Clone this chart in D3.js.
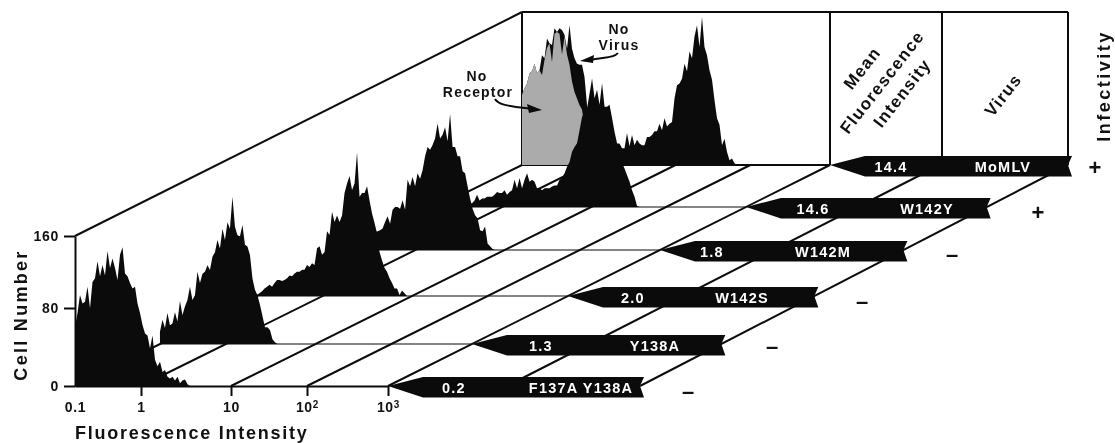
<!DOCTYPE html>
<html>
<head>
<meta charset="utf-8">
<script src="https://cdn.jsdelivr.net/npm/d3@7"></script>
<style>
body { margin: 0; background: #fff; }
svg { display: block; filter: blur(0.4px); }
text { font-family: "Liberation Sans", Arial, sans-serif; font-weight: bold; fill: #111; }
</style>
</head>
<body>
<div id="chart"></div>
<script>
// front row first, back row last
const viruses = ["F137A Y138A", "Y138A", "W142S", "W142M", "W142Y", "MoMLV"]
const meanFluorescence = ["0.2", "1.3", "2.0", "1.8", "14.6", "14.4"]
const infectivity = ["\u2013", "\u2013", "\u2013", "\u2013", "+", "+"]

const xTicks = [0.1, 1, 10, 100, 1000]
const yTicks = [0, 80, 160]

// cell counts per channel
const countsF137A = [63,78,97,88,90,106,83,111,115,133,117,129,118,144,126,136,126,113,140,148,120,117,110,104,106,88,78,65,56,54,40,54,28,21,26,15,17,10,8,10,6,10,3,6,7,2,0]
const countsY138A = [13,26,17,33,20,22,34,24,46,31,40,47,61,47,52,77,65,75,77,84,79,93,98,111,102,123,111,130,123,157,125,116,115,127,106,104,95,70,58,52,42,30,18,18,15,5,2,0]
const countsW142S = [1,3,5,8,10,12,10,14,17,17,16,17,19,22,21,24,26,26,28,28,33,31,35,33,51,53,44,47,69,65,90,79,86,79,86,110,120,128,113,120,153,106,110,110,117,102,88,78,67,47,38,30,26,19,14,8,8,1,6,3,0]
const countsW142M = [14,14,15,15,16,16,17,17,18,18,19,20,21,23,30,36,28,43,46,46,44,53,43,75,68,78,68,82,76,85,100,110,107,112,119,135,119,123,131,116,145,110,110,100,100,84,82,68,55,44,37,34,21,20,25,7,4,1,0]
const countsW142Y = [3,3,3,4,4,4,4,4,4,4,4,4,4,4,4,7,13,7,9,9,11,11,11,13,16,15,15,18,13,16,18,29,20,31,20,29,36,27,29,27,20,20,18,20,20,20,22,23,23,29,31,36,43,48,59,64,68,82,96,103,105,121,137,116,125,109,132,107,107,109,95,80,68,55,47,41,34,27,18,11,1,0]
const countsMoMLV = [75,82,87,98,100,108,98,101,117,114,135,130,128,146,142,146,144,139,124,149,124,114,108,107,107,94,64,53,43,36,32,28,27,25,23,23,23,23,23,23,18,18,34,20,32,21,27,23,21,21,30,30,32,36,36,44,37,50,41,44,46,71,85,87,92,108,100,121,114,137,149,126,158,126,117,101,91,69,50,43,21,28,14,5,7,2,0]
const countsNoReceptor = [75,82,87,98,100,108,98,101,96,112,125,130,110,140,142,140,118,137,118,107,89,78,71,64,59,43,18,7,0]

const rowCounts = [countsF137A, countsY138A, countsW142S, countsW142M, countsW142Y, countsMoMLV]

const width = 1115
const height = 443
const origin = { x: 75, y: 386 }
const wall = { x: 522, y: 165, top: 12 }
const floorDepth = origin.y - wall.y

const svg = d3.select("#chart").append("svg").attr("width", width).attr("height", height)

// rows are not quite evenly spaced on the floor
const depth = d3.scaleLinear().domain([0, 1, 2, 3, 4, 5]).range([0, 42, 90, 136, 179, 221])
// the back edge of the floor is a bit narrower than the front edge
const backX = d3.scaleLinear().domain([0, 313, 432, 565]).range([0, 308, 418, 546])

function floor(pos, row) {
    const d = depth(row)
    const t = d / floorDepth
    const front = origin.x + pos
    const back = wall.x + backX(pos)
    return [front + (back - front) * t, origin.y - d]
}

const x = d3.scaleLog().domain(xTicks).range([0, 66, 156, 232, 313])
const channel = d3.scaleLinear().domain([0, 125]).range([0, 312.5])
const y = d3.scaleLinear().domain([0, 160]).range([0, -150])
// the printed 80 tick sits a little above the middle of the axis
const yAxisScale = d3.scaleLinear().domain(yTicks).range([origin.y, origin.y - 78, origin.y - 150])

const ink = "#0b0b0b"
const grey = "#ababab"

// back wall
const wallGroup = svg.append("g").attr("fill", "none").attr("stroke", ink)
wallGroup.append("line").attr("x1", origin.x).attr("y1", origin.y - 150).attr("x2", wall.x).attr("y2", wall.top).attr("stroke-width", 2)
wallGroup.append("line").attr("x1", wall.x).attr("y1", wall.top).attr("x2", 1068).attr("y2", wall.top).attr("stroke-width", 2)
wallGroup.append("line").attr("x1", wall.x).attr("y1", wall.top).attr("x2", wall.x).attr("y2", wall.y).attr("stroke-width", 2)
wallGroup.selectAll(".col").data([830, 942, 1068]).enter().append("line")
    .attr("x1", d => d).attr("x2", d => d).attr("y1", wall.top).attr("y2", wall.y).attr("stroke-width", 2)

// floor lines running to the back
const floorPositions = [0, 66, 156, 232, 313, 432, 565]
svg.append("g").selectAll("line").data(floorPositions).enter().append("line")
    .attr("x1", d => floor(d, 0)[0]).attr("y1", d => floor(d, 0)[1])
    .attr("x2", d => floor(d, 5)[0]).attr("y2", d => floor(d, 5)[1])
    .attr("stroke", ink).attr("stroke-width", 2)

// row baselines, up to the arrow tip
svg.append("g").selectAll("line").data(d3.range(1, 6)).enter().append("line")
    .attr("x1", d => floor(0, d)[0]).attr("y1", d => floor(0, d)[1])
    .attr("x2", d => floor(313, d)[0]).attr("y2", d => floor(313, d)[1])
    .attr("stroke", ink).attr("stroke-width", d => d == 5 ? 2 : 1)

const area = d3.area()
    .x((d, i) => channel(i))
    .y0(0)
    .y1(d => y(d))

// histograms, back to front so nearer rows cover farther ones
d3.range(5, -1, -1).forEach(row => {
    const g = svg.append("g").attr("transform", `translate(${floor(0, row)})`)
    g.append("path").attr("d", area(rowCounts[row])).attr("fill", ink)
    if (row == 5) {
        g.append("path").attr("d", area(countsNoReceptor)).attr("fill", grey)
    }
})

// axes
const xAxisGroup = svg.append("g").attr("transform", `translate(${origin.x}, ${origin.y})`)
    .call(d3.axisBottom(x).tickValues(xTicks).tickSize(10).tickSizeOuter(0).tickPadding(6).tickFormat(d => d < 100 ? d : "10"))
const yAxisGroup = svg.append("g").attr("transform", `translate(${origin.x}, 0)`)
    .call(d3.axisLeft(yAxisScale).tickValues(yTicks).tickSize(11).tickSizeOuter(0).tickPadding(5))

xAxisGroup.selectAll(".tick").filter(d => d == 0.1).select("line").remove()
xAxisGroup.selectAll(".tick text").filter(d => d >= 100)
    .append("tspan").attr("dy", "-0.4em").attr("font-size", 10).text(d => Math.log10(d))
svg.selectAll(".domain, .tick line").attr("stroke", ink).attr("stroke-width", 2)
svg.selectAll(".tick text").attr("font-family", null).attr("font-size", 14).style("letter-spacing", "0.7px").attr("fill", "#111")

// arrow bars with the mean intensity and the virus name
const barTop = 9
const barBottom = 11.5
const barHead = 35
function barShape(row) {
    const tip = floor(313, row)
    const notch = floor(565, row)
    const pts = [tip, [tip[0] + barHead, tip[1] - barTop], [notch[0] + 4, tip[1] - barTop], notch,
        [notch[0] + 4, tip[1] + barBottom], [tip[0] + barHead, tip[1] + barBottom]]
    return d3.line()(pts) + "Z"
}
svg.append("g").selectAll("path").data(d3.range(6)).enter().append("path")
    .attr("d", barShape).attr("fill", ink)

const mfiX = d3.scaleLinear().domain(d3.range(6)).range([454, 541, 633, 712, 813, 891])
const virusX = d3.scaleLinear().domain(d3.range(6)).range([581, 655, 742, 823, 927, 1003])
const signX = d3.scaleLinear().domain(d3.range(6)).range([688, 772, 862, 952, 1038, 1095])
const signDy = d3.scaleLinear().domain(d3.range(6)).range([13, 10, 13, 12, 13, 10])

svg.append("g").selectAll("text").data(meanFluorescence).enter().append("text")
    .attr("x", (d, i) => mfiX(i)).attr("y", (d, i) => floor(0, i)[1] + 6.5)
    .attr("text-anchor", "middle").attr("font-size", 14.5).style("letter-spacing", "1.2px").style("fill", "#fff")
    .text(d => d)
svg.append("g").selectAll("text").data(viruses).enter().append("text")
    .attr("x", (d, i) => virusX(i)).attr("y", (d, i) => floor(0, i)[1] + 6.5)
    .attr("text-anchor", "middle").attr("font-size", 14.5).style("letter-spacing", "1.2px").style("fill", "#fff")
    .text(d => d)
svg.append("g").selectAll("text").data(infectivity).enter().append("text")
    .attr("x", (d, i) => signX(i)).attr("y", (d, i) => floor(0, i)[1] + signDy(i))
    .attr("text-anchor", "middle").attr("font-size", 22)
    .text(d => d)

// titles
svg.append("text").attr("transform", "translate(27, 315) rotate(-90)").attr("text-anchor", "middle")
    .attr("font-size", 18).style("letter-spacing", "2.3px").text("Cell Number")
svg.append("text").attr("x", 75).attr("y", 439)
    .attr("font-size", 18).style("letter-spacing", "1.75px").text("Fluorescence Intensity")
svg.append("text").attr("transform", "translate(1110, 86) rotate(-90)").attr("text-anchor", "middle")
    .attr("font-size", 18).style("letter-spacing", "2.5px").text("Infectivity")

const slanted = [
    { text: "Mean", x: 862, y: 68 },
    { text: "Fluorescence", x: 882, y: 82 },
    { text: "Intensity", x: 902, y: 93 },
    { text: "Virus", x: 1003, y: 95 }
]
svg.append("g").selectAll("text").data(slanted).enter().append("text")
    .attr("transform", d => `translate(${d.x}, ${d.y}) rotate(-52)`)
    .attr("text-anchor", "middle").attr("dy", "0.35em")
    .attr("font-size", 17).style("letter-spacing", "1.3px")
    .text(d => d.text)

// call-outs
const notes = [
    { text: "No", x: 477, y: 80.5 },
    { text: "Receptor", x: 478, y: 96.5 },
    { text: "No", x: 619, y: 34 },
    { text: "Virus", x: 619, y: 50 }
]
svg.append("g").selectAll("text").data(notes).enter().append("text")
    .attr("x", d => d.x).attr("y", d => d.y).attr("text-anchor", "middle")
    .attr("font-size", 14).style("letter-spacing", "1.2px")
    .text(d => d.text)

svg.append("path").attr("d", "M495,99 C499,106 512,106 532,109").attr("fill", "none").attr("stroke", ink).attr("stroke-width", 2)
svg.append("path").attr("d", "M542,110 L527,104 L529,113Z").attr("fill", ink)
svg.append("path").attr("d", "M618,53 C614,58 604,57 590,60").attr("fill", "none").attr("stroke", ink).attr("stroke-width", 2)
svg.append("path").attr("d", "M580,61 L594,55 L593,63Z").attr("fill", ink)
</script>
</body>
</html>
